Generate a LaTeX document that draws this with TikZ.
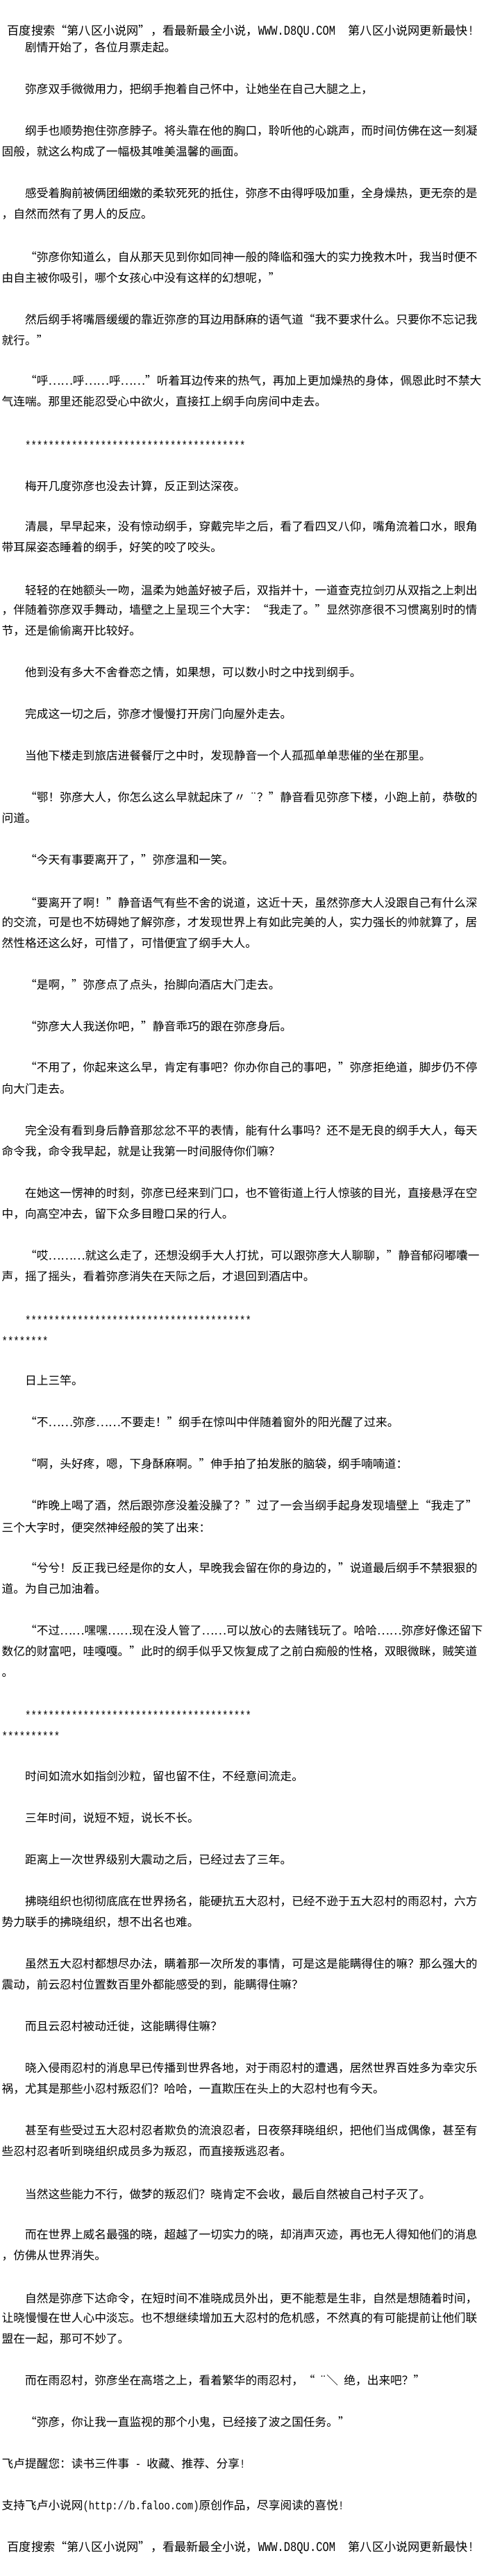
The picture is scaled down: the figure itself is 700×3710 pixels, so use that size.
\documentclass[tikz,border=0pt]{standalone}
\usepackage{fontspec}
\newfontfamily\cjkfont[RawFeature=+fwid]{Noto Sans CJK SC}
\newfontfamily\monofont[FakeStretch=0.8]{Liberation Mono}
\newcommand\bodyfont{\cjkfont\fontsize{16.7pt}{20pt}\selectfont}
\newcommand\headfont{\cjkfont\fontsize{17.2pt}{20pt}\selectfont}
\newcommand\latn[1]{{\monofont\fontsize{17.4pt}{20pt}\selectfont#1}}
\newcommand\hlatn[1]{{\monofont\fontsize{19.3pt}{20pt}\selectfont#1}}

\begin{document}
\begin{tikzpicture}[x=1pt,y=-1pt]
		\tikzstyle{every node} = [anchor=base west,inner sep=0pt,font=\bodyfont];
		\path[use as bounding box,fill=white] (0,0) rectangle (700,3710);
		\node[font=\headfont] (1) at (10.5,50) {百度搜索“第八区小说网”，看最新最全小说，\hlatn{WWW.D8QU.COM\ \ }第八区小说网更新最快\hlatn{!}};
		\node (2) at (36,74) {剧情开始了，各位月票走起。};
		\node (3) at (36,134) {弥彦双手微微用力，把纲手抱着自己怀中，让她坐在自己大腿之上，};
		\node (4) at (36,194) {纲手也顺势抱住弥彦脖子。将头靠在他的胸口，聆听他的心跳声，而时间仿佛在这一刻凝};
		\node (5) at (2.5,224) {固般，就这么构成了一幅极其唯美温馨的画面。};
		\node (6) at (36,284) {感受着胸前被俩团细嫩的柔软死死的抵住，弥彦不由得呼吸加重，全身燥热，更无奈的是};
		\node (7) at (2.5,314) {，自然而然有了男人的反应。};
		\node (8) at (36,376) {“弥彦你知道么，自从那天见到你如同神一般的降临和强大的实力挽救木叶，我当时便不};
		\node (9) at (2.5,406) {由自主被你吸引，哪个女孩心中没有这样的幻想呢，”};
		\node (10) at (36,466) {然后纲手将嘴唇缓缓的靠近弥彦的耳边用酥麻的语气道“我不要求什么。只要你不忘记我};
		\node (11) at (2.5,496) {就行。”};
		\node (12) at (36,554) {“呼……呼……呼……”听着耳边传来的热气，再加上更加燥热的身体，佩恩此时不禁大};
		\node (13) at (2.5,584) {气连喘。那里还能忍受心中欲火，直接扛上纲手向房间中走去。};
		\node (14) at (36,647) {\latn{**************************************}};
		\node (15) at (36,706) {梅开几度弥彦也没去计算，反正到达深夜。};
		\node (16) at (36,764) {清晨，早早起来，没有惊动纲手，穿戴完毕之后，看了看四叉八仰，嘴角流着口水，眼角};
		\node (17) at (2.5,794) {带耳屎姿态睡着的纲手，好笑的咬了咬头。};
		\node (18) at (36,856) {轻轻的在她额头一吻，温柔为她盖好被子后，双指并十，一道查克拉剑刃从双指之上刺出};
		\node (19) at (2.5,884) {，伴随着弥彦双手舞动，墙壁之上呈现三个大字：“我走了。”显然弥彦很不习惯离别时的情};
		\node (20) at (2.5,914) {节，还是偷偷离开比较好。};
		\node (21) at (36,974) {他到没有多大不舍眷恋之情，如果想，可以数小时之中找到纲手。};
		\node (22) at (36,1034) {完成这一切之后，弥彦才慢慢打开房门向屋外走去。};
		\node (23) at (36,1094) {当他下楼走到旅店进餐餐厅之中时，发现静音一个人孤孤单单悲催的坐在那里。};
		\node (24) at (36,1154) {“鄂！弥彦大人，你怎么这么早就起床了〃\makebox[1em][r]{¨}？”静音看见弥彦下楼，小跑上前，恭敬的};
		\node (25) at (2.5,1184) {问道。};
		\node (26) at (36,1244) {“今天有事要离开了，”弥彦温和一笑。};
		\node (27) at (36,1306) {“要离开了啊！”静音语气有些不舍的说道，这近十天，虽然弥彦大人没跟自己有什么深};
		\node (28) at (2.5,1334) {的交流，可是也不妨碍她了解弥彦，才发现世界上有如此完美的人，实力强长的帅就算了，居};
		\node (29) at (2.5,1364) {然性格还这么好，可惜了，可惜便宜了纲手大人。};
		\node (30) at (36,1424) {“是啊，”弥彦点了点头，抬脚向酒店大门走去。};
		\node (31) at (36,1484) {“弥彦大人我送你吧，”静音乖巧的跟在弥彦身后。};
		\node (32) at (36,1543) {“不用了，你起来这么早，肯定有事吧？你办你自己的事吧，”弥彦拒绝道，脚步仍不停};
		\node (33) at (2.5,1574) {向大门走去。};
		\node (34) at (36,1634) {完全没有看到身后静音那忿忿不平的表情，能有什么事吗？还不是无良的纲手大人，每天};
		\node (35) at (2.5,1664) {命令我，命令我早起，就是让我第一时间服侍你们嘛？};
		\node (36) at (36,1724) {在她这一愣神的时刻，弥彦已经来到门口，也不管街道上行人惊骇的目光，直接悬浮在空};
		\node (37) at (2.5,1754) {中，向高空冲去，留下众多目瞪口呆的行人。};
		\node (38) at (36,1814) {“哎………就这么走了，还想没纲手大人打扰，可以跟弥彦大人聊聊，”静音郁闷嘟囔一};
		\node (39) at (2.5,1844) {声，摇了摇头，看着弥彦消失在天际之后，才退回到酒店中。};
		\node (40) at (36,1907) {\latn{***************************************}};
		\node (41) at (2.5,1937) {\latn{********}};
		\node (42) at (36,1994) {日上三竿。};
		\node (43) at (36,2054) {“不……弥彦……不要走！”纲手在惊叫中伴随着窗外的阳光醒了过来。};
		\node (44) at (36,2114) {“啊，头好疼，嗯，下身酥麻啊。”伸手拍了拍发胀的脑袋，纲手喃喃道：};
		\node (45) at (36,2174) {“昨晚上喝了酒，然后跟弥彦没羞没臊了？”过了一会当纲手起身发现墙壁上“我走了”};
		\node (46) at (2.5,2206) {三个大字时，便突然神经般的笑了出来：};
		\node (47) at (36,2264) {“兮兮！反正我已经是你的女人，早晚我会留在你的身边的，”说道最后纲手不禁狠狠的};
		\node (48) at (2.5,2294) {道。为自己加油着。};
		\node (49) at (36,2354) {“不过……嘿嘿……现在没人管了……可以放心的去赌钱玩了。哈哈……弥彦好像还留下};
		\node (50) at (2.5,2384) {数亿的财富吧，哇嘎嘎。”此时的纲手似乎又恢复成了之前白痴般的性格，双眼微眯，贼笑道};
		\node (51) at (2.5,2414) {。};
		\node (52) at (36,2476) {\latn{***************************************}};
		\node (53) at (2.5,2506) {\latn{**********}};
		\node (54) at (36,2564) {时间如流水如指剑沙粒，留也留不住，不经意间流走。};
		\node (55) at (36,2624) {三年时间，说短不短，说长不长。};
		\node (56) at (36,2684) {距离上一次世界级别大震动之后，已经过去了三年。};
		\node (57) at (36,2744) {拂晓组织也彻彻底底在世界扬名，能硬抗五大忍村，已经不逊于五大忍村的雨忍村，六方};
		\node (58) at (2.5,2774) {势力联手的拂晓组织，想不出名也难。};
		\node (59) at (36,2834) {虽然五大忍村都想尽办法，瞒着那一次所发的事情，可是这是能瞒得住的嘛？那么强大的};
		\node (60) at (2.5,2864) {震动，前云忍村位置数百里外都能感受的到，能瞒得住嘛？};
		\node (61) at (36,2924) {而且云忍村被动迁徙，这能瞒得住嘛？};
		\node (62) at (36,2984) {晓入侵雨忍村的消息早已传播到世界各地，对于雨忍村的遭遇，居然世界百姓多为幸灾乐};
		\node (63) at (2.5,3014) {祸，尤其是那些小忍村叛忍们？哈哈，一直欺压在头上的大忍村也有今天。};
		\node (64) at (36,3074) {甚至有些受过五大忍村忍者欺负的流浪忍者，日夜祭拜晓组织，把他们当成偶像，甚至有};
		\node (65) at (2.5,3104) {些忍村忍者听到晓组织成员多为叛忍，而直接叛逃忍者。};
		\node (66) at (36,3166) {当然这些能力不行，做梦的叛忍们？晓肯定不会收，最后自然被自己村子灭了。};
		\node (67) at (36,3224) {而在世界上威名最强的晓，超越了一切实力的晓，却消声灭迹，再也无人得知他们的消息};
		\node (68) at (2.5,3254) {，仿佛从世界消失。};
		\node (69) at (36,3316) {自然是弥彦下达命令，在短时间不准晓成员外出，更不能惹是生非，自然是想随着时间，};
		\node (70) at (2.5,3344) {让晓慢慢在世人心中淡忘。也不想继续增加五大忍村的危机感，不然真的有可能提前让他们联};
		\node (71) at (2.5,3374) {盟在一起，那可不妙了。};
		\node (72) at (36,3434) {而在雨忍村，弥彦坐在高塔之上，看着繁华的雨忍村，“\makebox[1em][r]{¨}\makebox[1em][r]{＼}\hspace{0.5em}绝，出来吧？”};
		\node (73) at (36,3494) {“弥彦，你让我一直监视的那个小鬼，已经接了波之国任务。”};
		\node (74) at (2.5,3554) {飞卢提醒您：读书三件事\latn{\ -\ }收藏、推荐、分享\latn{!}};
		\node (75) at (2.5,3614) {支持飞卢小说网\latn{(http://b.faloo.com)}原创作品，尽享阅读的喜悦\latn{!}};
		\node[font=\headfont] (76) at (10.5,3674) {百度搜索“第八区小说网”，看最新最全小说，\hlatn{WWW.D8QU.COM\ \ }第八区小说网更新最快\hlatn{!}};
	\end{tikzpicture}
\end{document}
